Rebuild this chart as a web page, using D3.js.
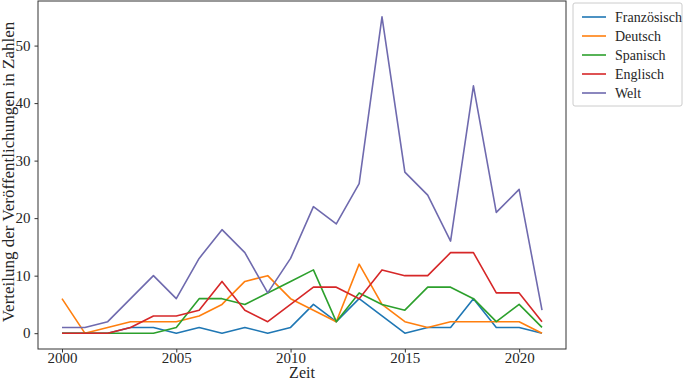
<!DOCTYPE html>
<html><head><meta charset="utf-8">
<script src="https://cdn.jsdelivr.net/npm/d3@7"></script>
<style>body{margin:0;background:#fff}svg{display:block}</style>
</head><body><svg id="c" width="685" height="382"></svg>
<script>
const years = d3.range(2000, 2022);
const francais = [0,0,0,1,1,0,1,0,1,0,1,5,2,6,3,0,1,1,6,1,1,0];
const deutsch  = [6,0,1,2,2,2,3,5,9,10,6,4,2,12,5,2,1,2,2,2,2,0];
const spanisch = [0,0,0,0,0,1,6,6,5,7,9,11,2,7,5,4,8,8,6,2,5,1];
const englisch = [0,0,0,1,3,3,4,9,4,2,5,8,8,6,11,10,10,14,14,7,7,2];
const welt     = [1,1,2,6,10,6,13,18,14,7,13,22,19,26,55,28,24,16,43,21,25,4];
const seriesNames = ["Französisch","Deutsch","Spanisch","Englisch","Welt"];
const seriesValues = [francais, deutsch, spanisch, englisch, welt];
const colors = ["#1f77b4","#ff7f0e","#2ca02c","#d62728","#6f6aae"];
const xTicks = [2000,2005,2010,2015,2020];
const yTicks = [0,10,20,30,40,50];

const FONT = "'Liberation Serif', 'Times New Roman', serif";
const svg = d3.select("#c").attr("font-family", FONT);
const L = 38, R = 566, T = 1, B = 349;
const x = d3.scaleLinear().domain([2000-1.05, 2021+1.05]).range([L, R]);
const y = d3.scaleLinear().domain([-2.75, 57.75]).range([B, T]);

const line = d3.line().x((d,i)=>x(years[i])).y(d=>y(d));
seriesValues.forEach((vals,k)=>{
  svg.append("path").datum(vals).attr("d", line)
    .attr("fill","none").attr("stroke",colors[k]).attr("stroke-width",1.6)
    .attr("stroke-linejoin","round");
});

const xa = svg.append("g").attr("transform",`translate(0,${B})`)
  .call(d3.axisBottom(x).tickValues(xTicks).tickFormat(d3.format("d")).tickSize(3.5).tickPadding(0));
const ya = svg.append("g").attr("transform",`translate(${L},0)`)
  .call(d3.axisLeft(y).tickValues(yTicks).tickSize(3.5).tickPadding(4));
[xa,ya].forEach(a=>{
  a.attr("font-family", FONT).attr("font-size", 15);
  a.select(".domain").remove();
  a.selectAll("line").attr("stroke","#333");
  a.selectAll("text").attr("fill","#262626");
});
svg.append("rect").attr("x",L).attr("y",T).attr("width",R-L).attr("height",B-T)
  .attr("fill","none").attr("stroke","#333").attr("stroke-width",1);

svg.append("text").attr("x",(L+R)/2).attr("y",378).attr("text-anchor","middle")
  .attr("font-size",16).attr("fill","#262626").text("Zeit");
svg.append("text").attr("transform",`translate(14,172) rotate(-90)`)
  .attr("text-anchor","middle").attr("font-size",17).attr("fill","#262626")
  .text("Verteilung der Veröffentlichungen in Zahlen");

const lg = svg.append("g").attr("transform","translate(573,3)");
lg.append("rect").attr("width",109).attr("height",103).attr("rx",2)
  .attr("fill","#fff").attr("stroke","#ccc");
seriesNames.forEach((n,k)=>{
  const yy = 14 + k*19;
  lg.append("line").attr("x1",9).attr("x2",33).attr("y1",yy).attr("y2",yy)
    .attr("stroke",colors[k]).attr("stroke-width",1.6);
  lg.append("text").attr("x",42).attr("y",yy+5).attr("font-size",14).attr("fill","#262626").text(n);
});
</script></body></html>
